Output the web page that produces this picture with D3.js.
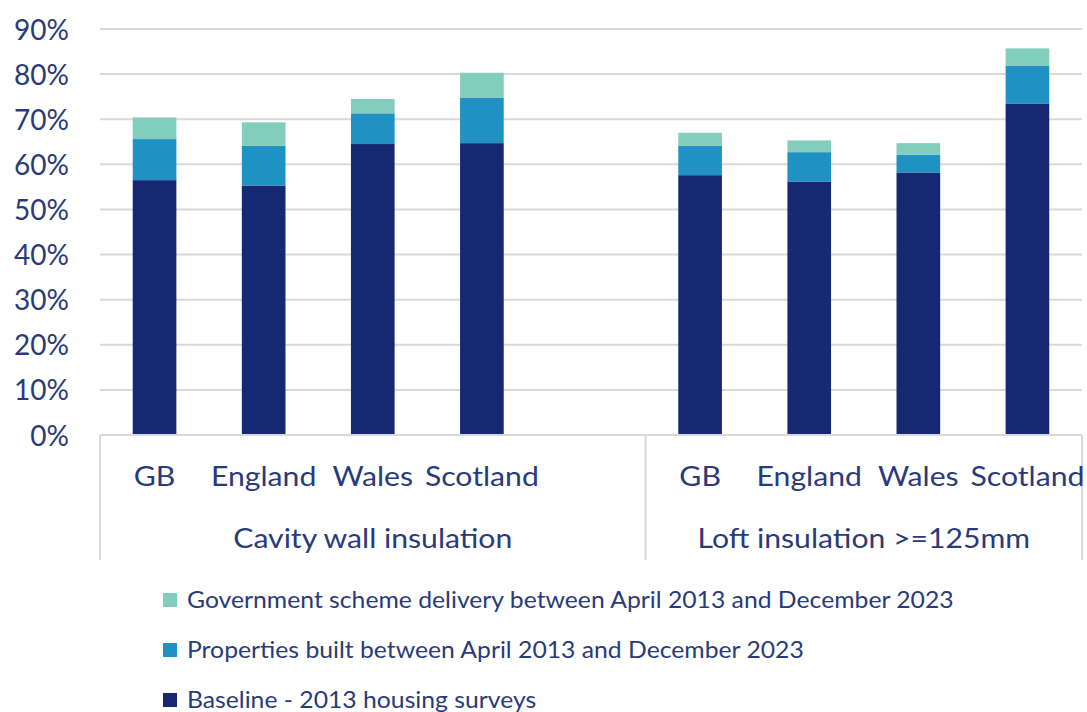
<!DOCTYPE html>
<html>
<head>
<meta charset="utf-8">
<script src="https://cdn.jsdelivr.net/npm/d3@7"></script>
<style>
  html, body { margin: 0; padding: 0; background: #fff; }
  svg { display: block; font-family: Lato, "Open Sans", sans-serif; }
</style>
</head>
<body>
<svg id="chart" width="1087" height="712"></svg>
<script>
// Measure groups and the nations within each
const groups = ["Cavity wall insulation", "Loft insulation >=125mm"];
const nations = ["GB", "England", "Wales", "Scotland"];

// Stacked components (percentage points), per group, in nation order
const baseline = [
  [56.5, 55.3, 64.5, 64.7],
  [57.6, 56.2, 58.2, 73.4]
];
const newBuild = [
  [9.1, 8.8, 6.8, 10.1],
  [6.5, 6.5, 3.9, 8.5]
];
const schemeDelivery = [
  [4.8, 5.2, 3.2, 5.5],
  [2.9, 2.6, 2.6, 3.8]
];

const seriesNames = [
  "Baseline - 2013 housing surveys",
  "Properties built between April 2013 and December 2023",
  "Government scheme delivery between April 2013 and December 2023"
];
const seriesColors = ["#172872", "#1f91c2", "#82cdbb"];
const yTicks = [0, 10, 20, 30, 40, 50, 60, 70, 80, 90];

const textColor = "#283a7a";
const gridColor = "#d9d9d9";

const svg = d3.select("#chart");
const plot = { left: 100, right: 1082, top: 29, bottom: 435 };

// One slot per bar, with an empty slot closing the first group
const slots = [];
groups.forEach((g, gi) => {
  nations.forEach((n, ni) => slots.push({ key: g + "|" + n, group: gi, nation: ni }));
  if (gi < groups.length - 1) slots.push({ key: g + "|gap", group: gi, nation: -1 });
});

const x = d3.scaleBand()
  .domain(slots.map(s => s.key))
  .range([plot.left, plot.right])
  .paddingInner(0.6)
  .paddingOuter(0.3);

const y = d3.scaleLinear().domain([0, 90]).range([plot.bottom, plot.top]);

// Text widened slightly so the humanist face sets a little broader
function placeText(sel, fx, fy, sx) {
  sel.attr("x", 0).attr("y", 0)
    .attr("transform", (d, i) => `translate(${fx(d, i)},${fy(d, i)}) scale(${sx},1)`);
}

// Gridlines
svg.append("g")
  .selectAll("line")
  .data(yTicks.filter(t => t > 0))
  .join("line")
  .attr("x1", plot.left).attr("x2", plot.right)
  .attr("y1", d => y(d)).attr("y2", d => y(d))
  .attr("stroke", gridColor).attr("stroke-width", 2);

// Y axis labels
const yAxis = d3.axisLeft(y).tickValues(yTicks).tickFormat(d => d + "%").tickSize(0).tickPadding(0);
const yg = svg.append("g").attr("transform", `translate(${69},0)`).call(yAxis);
yg.select(".domain").remove();
yg.selectAll("text")
  .attr("fill", textColor)
  .style("font-size", "28px")
  .style("font-family", "Lato, sans-serif")
  .attr("dy", "0.36em");

// Stacked bars
const barSlots = slots.filter(s => s.nation >= 0);
const rows = barSlots.map(s => ({
  key: s.key,
  v: [baseline[s.group][s.nation], newBuild[s.group][s.nation], schemeDelivery[s.group][s.nation]]
}));
const stack = d3.stack()
  .keys([0, 1, 2])
  .value((d, k) => d.v[k]);
const stacked = stack(rows);

svg.append("g")
  .selectAll("g")
  .data(stacked)
  .join("g")
  .attr("fill", (d, i) => seriesColors[i])
  .selectAll("rect")
  .data(d => d)
  .join("rect")
  .attr("x", d => x(d.data.key))
  .attr("width", x.bandwidth())
  .attr("y", d => y(d[1]))
  .attr("height", d => y(d[0]) - y(d[1]));

// Category axis: baseline and group dividers
const slotStep = x.step();
const groupEdges = [plot.left, plot.left + slotStep * 5, plot.right];
svg.append("line")
  .attr("x1", plot.left).attr("x2", plot.right)
  .attr("y1", plot.bottom).attr("y2", plot.bottom)
  .attr("stroke", gridColor).attr("stroke-width", 2);
svg.append("g")
  .selectAll("line")
  .data(groupEdges)
  .join("line")
  .attr("x1", d => d).attr("x2", d => d)
  .attr("y1", plot.bottom).attr("y2", 560)
  .attr("stroke", gridColor).attr("stroke-width", 2);

// Nation labels
svg.append("g")
  .selectAll("text")
  .data(barSlots)
  .join("text")
  .attr("text-anchor", "middle")
  .attr("fill", textColor)
  .style("font-size", "26px")
  .text(d => nations[d.nation])
  .call(placeText, d => x(d.key) + x.bandwidth() / 2, () => 486, 1.16);

// Group labels
svg.append("g")
  .selectAll("text")
  .data(groups)
  .join("text")
  .attr("text-anchor", "middle")
  .attr("fill", textColor)
  .style("font-size", "26px")
  .text(d => d)
  .call(placeText, (d, i) => (groupEdges[i] + groupEdges[i + 1]) / 2, () => 548, 1.16);

// Legend, top entry is the top of the stack
const legendOrder = [2, 1, 0];
const lg = svg.append("g")
  .selectAll("g")
  .data(legendOrder)
  .join("g")
  .attr("transform", (d, i) => `translate(163,${600 + i * 50})`);
lg.append("rect")
  .attr("x", 0).attr("y", -7).attr("width", 14).attr("height", 14)
  .attr("fill", d => seriesColors[d]);
lg.append("text")
  .attr("dy", "0.35em")
  .attr("fill", textColor)
  .style("font-size", "23px")
  .text(d => seriesNames[d])
  .call(placeText, () => 24, () => 0, 1.076);
</script>
</body>
</html>
